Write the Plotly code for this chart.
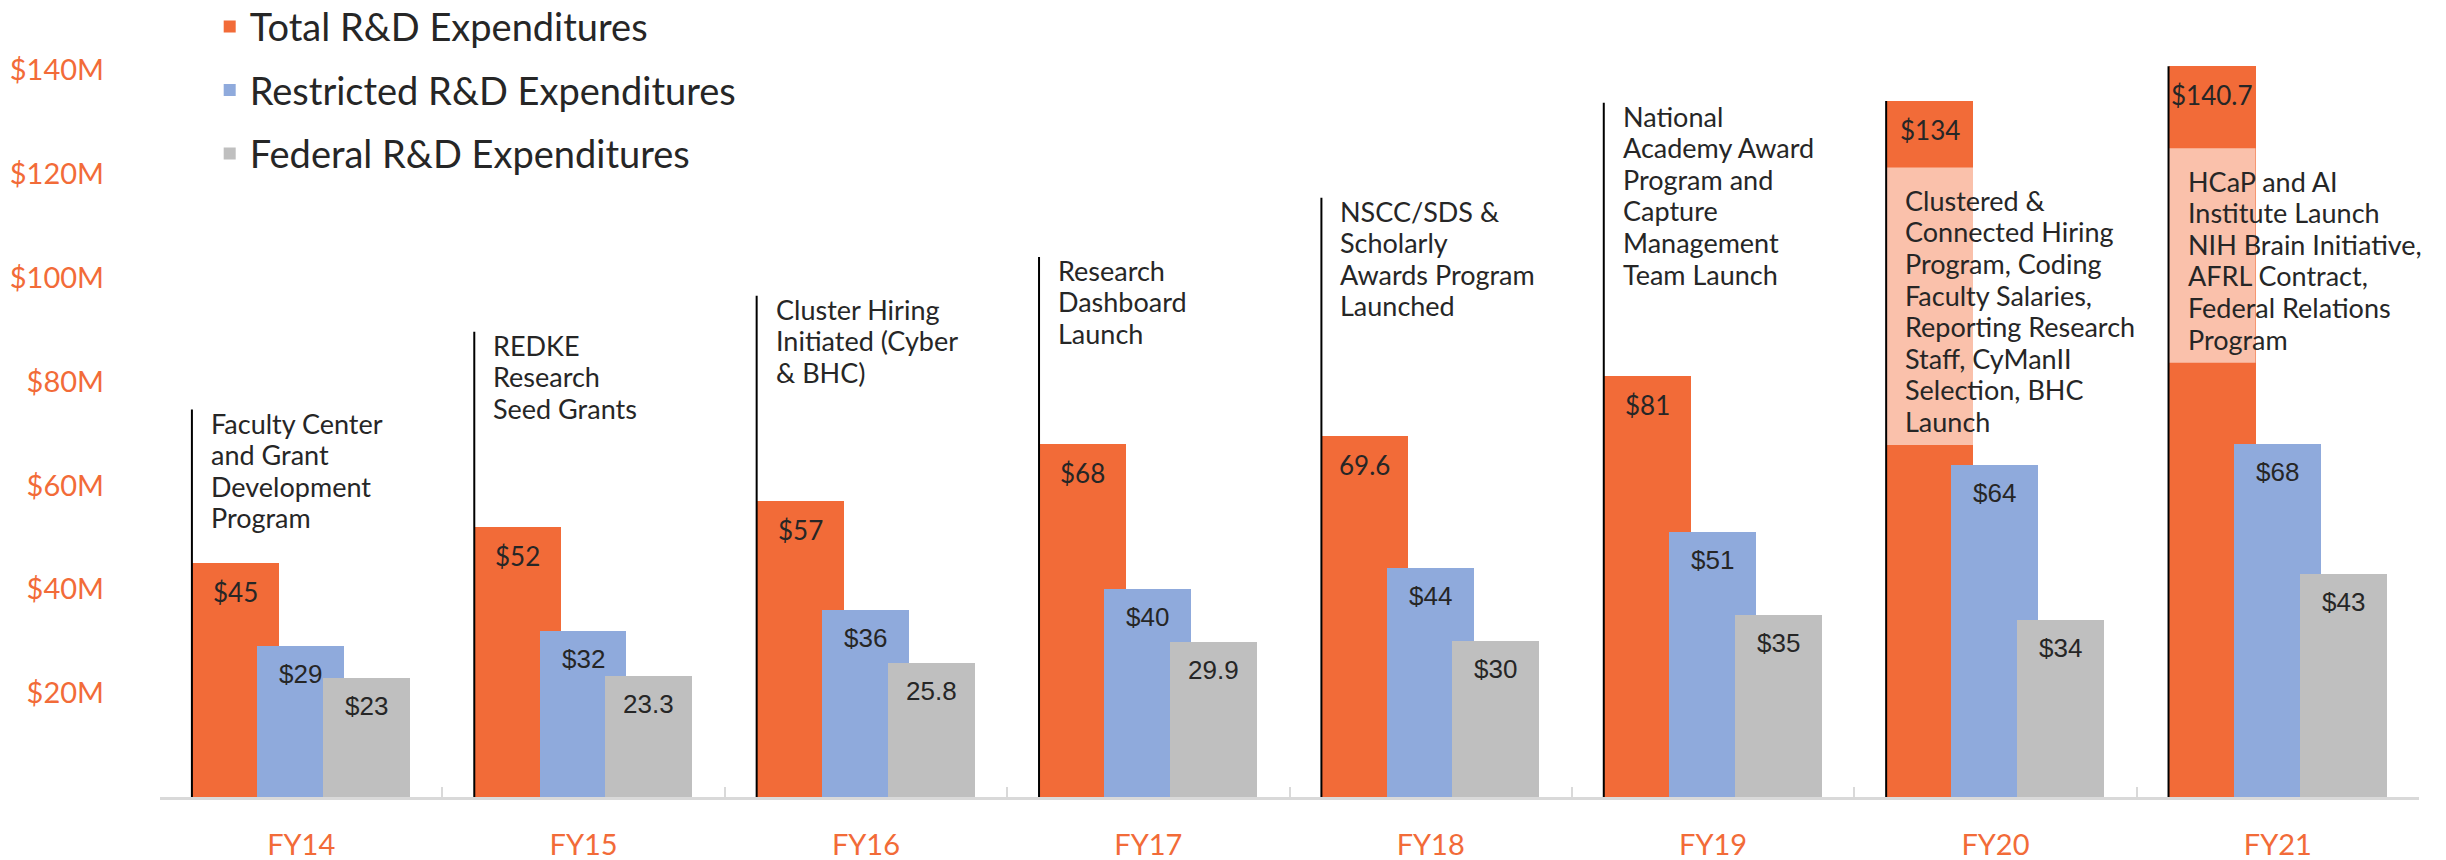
import plotly.graph_objects as go

# ---------------- data ----------------
years = ["FY14", "FY15", "FY16", "FY17", "FY18", "FY19", "FY20", "FY21"]
series_names = ["Total R&D Expenditures", "Restricted R&D Expenditures", "Federal R&D Expenditures"]

total_vals = [45, 52, 57, 68, 69.6, 81, 134, 140.7]
restricted_vals = [29, 32, 36, 40, 44, 51, 64, 68]
federal_vals = [23, 23.3, 25.8, 29.9, 30, 35, 34, 43]

total_labels = ["$45", "$52", "$57", "$68", "69.6", "$81", "$134", "$140.7"]
restricted_labels = ["$29", "$32", "$36", "$40", "$44", "$51", "$64", "$68"]
federal_labels = ["$23", "23.3", "25.8", "29.9", "$30", "$35", "$34", "$43"]

y_tick_vals = [20, 40, 60, 80, 100, 120, 140]
y_tick_text = ["$20M", "$40M", "$60M", "$80M", "$100M", "$120M", "$140M"]

milestones = [
    ["Faculty Center", "and Grant", "Development", "Program"],
    ["REDKE", "Research", "Seed Grants"],
    ["Cluster Hiring", "Initiated (Cyber", "& BHC)"],
    ["Research", "Dashboard", "Launch"],
    ["NSCC/SDS &", "Scholarly", "Awards Program", "Launched"],
    ["National", "Academy Award", "Program and", "Capture", "Management", "Team Launch"],
    ["Clustered &", "Connected Hiring", "Program, Coding", "Faculty Salaries,",
     "Reporting Research", "Staff, CyManII", "Selection, BHC", "Launch"],
    ["HCaP and AI", "Institute Launch", "NIH Brain Initiative,", "AFRL Contract,",
     "Federal Relations", "Program"],
]
# height (in $M) reached by each milestone leader line, and top of its text
milestone_line_top = [74.6, 89.6, 96.5, 104.0, 115.4, 133.7, 134, 140.7]
milestone_text_top = [74.6, 89.6, 96.5, 104.0, 115.4, 133.7, 117.5, 121.2]
# highlighted text boxes (top, bottom) where present
milestone_box = [None, None, None, None, None, None, (121.2, 67.8), (124.9, 83.6)]

# ---------------- style ----------------
ORANGE = "#F26B38"
BLUE = "#8FAADC"
GRAY = "#BFBFBF"
TEXT = "#262626"
AXIS = "#D9D9D9"

BAR_W = 0.308
OFFSETS = [-0.387, -0.156, 0.077]
LINE_PITCH = 31.6   # px between callout text lines
colors = [ORANGE, BLUE, GRAY]
values = [total_vals, restricted_vals, federal_vals]
labels = [total_labels, restricted_labels, federal_labels]
label_fonts = ["Lato", "Liberation Sans", "Liberation Sans"]

fig = go.Figure()
for k in range(3):
    fig.add_trace(go.Bar(
        x=years, y=values[k], name=series_names[k],
        marker=dict(color=colors[k], line=dict(width=0)),
        width=BAR_W, offset=OFFSETS[k],
        legendgroup=f"g{k}",
        hoverinfo="skip",
    ))

annotations = []
shapes = []
# data labels
for k in range(3):
    for i, v in enumerate(values[k]):
        annotations.append(dict(
            x=i + OFFSETS[k] + BAR_W / 2, y=v, xref="x", yref="y",
            text=labels[k][i], showarrow=False,
            xanchor="center", yanchor="top", yshift=-11,
            font=dict(family=label_fonts[k], size=26, color=TEXT),
        ))

# milestone callouts
for i, lines in enumerate(milestones):
    left = i + OFFSETS[0]
    box = milestone_box[i]
    if box is not None:
        shapes.append(dict(
            type="rect", xref="x", yref="y",
            x0=left, x1=left + BAR_W, y0=box[1], y1=box[0],
            fillcolor="rgba(255,255,255,0.58)", line=dict(width=0), layer="above",
        ))
    shapes.append(dict(
        type="line", xref="x", yref="y",
        x0=left, x1=left, y0=0, y1=milestone_line_top[i],
        line=dict(color="black", width=2), layer="above",
    ))
    for j, ln in enumerate(lines):
        annotations.append(dict(
            x=left, y=milestone_text_top[i], xref="x", yref="y",
            text=ln, showarrow=False, align="left",
            xanchor="left", yanchor="top", xshift=17, yshift=5 - j * LINE_PITCH,
            font=dict(family="Lato", size=27, color=TEXT),
        ))

fig.update_layout(
    width=2446, height=860,
    margin=dict(l=160, r=27, t=18, b=63, autoexpand=False),
    paper_bgcolor="white", plot_bgcolor="white",
    barmode="overlay",
    bargap=0,
    showlegend=True,
    legend=dict(
        x=0.022, y=1.029, xanchor="left", yanchor="top",
        font=dict(family="Lato", size=38, color=TEXT),
        bgcolor="rgba(0,0,0,0)", tracegroupgap=11,
        itemsizing="constant",
    ),
    annotations=annotations,
    shapes=shapes,
    xaxis=dict(
        type="category",
        range=[-0.5, 7.5], automargin=False,
        showline=True, linecolor=AXIS, linewidth=3,
        ticks="inside", tickson="boundaries", ticklen=10, tickwidth=2, tickcolor=AXIS,
        tickfont=dict(family="Lato", size=29, color=ORANGE),
        ticklabelstandoff=20,
        showgrid=False, zeroline=False, fixedrange=True,
    ),
    yaxis=dict(
        range=[0, 150], automargin=False,
        tickvals=y_tick_vals, ticktext=y_tick_text,
        tickfont=dict(family="Lato", size=29, color=ORANGE),
        ticklabelstandoff=55,
        showline=False, showgrid=False, zeroline=False, ticks="",
        fixedrange=True,
    ),
)

fig.write_html(
    "out.html",
    config={"displayModeBar": False},
    post_script="document.body.style.margin='0';",
)
